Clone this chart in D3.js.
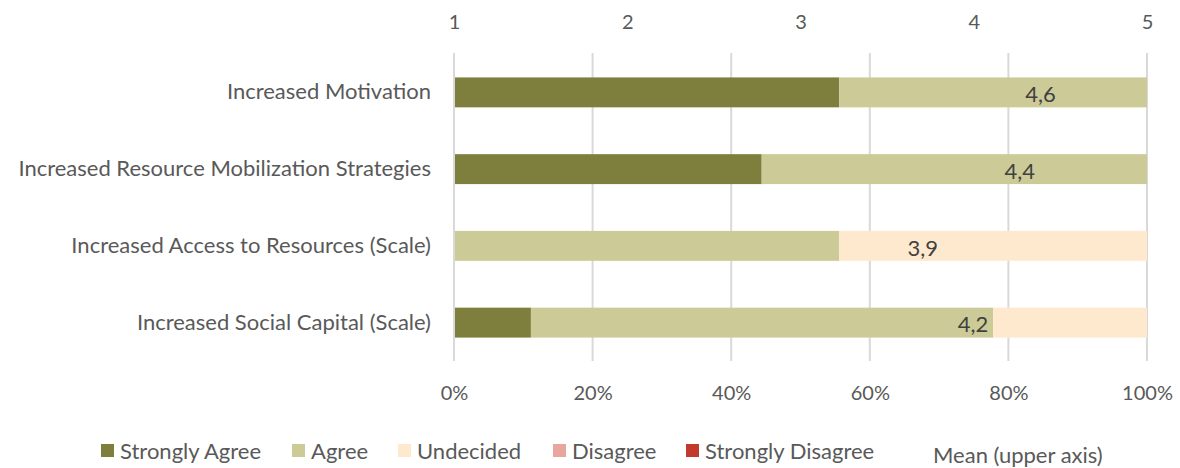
<!DOCTYPE html>
<html>
<head>
<meta charset="utf-8">
<script src="https://cdn.jsdelivr.net/npm/d3@7"></script>
<style>
  html, body { margin: 0; padding: 0; background: #ffffff; }
  svg { display: block; font-family: Lato, "Open Sans", sans-serif; }
</style>
</head>
<body>
<svg id="chart" width="1180" height="468"></svg>
<script>
// Survey items and share of responses (%) per answer category
const categories = [
  "Increased Motivation",
  "Increased Resource Mobilization Strategies",
  "Increased Access to Resources (Scale)",
  "Increased Social Capital (Scale)"
];
const stronglyAgree    = [55.6, 44.4, 0, 11.1];
const agree            = [44.4, 55.6, 55.6, 66.7];
const undecided        = [0, 0, 44.4, 22.2];
const disagree         = [0, 0, 0, 0];
const stronglyDisagree = [0, 0, 0, 0];
// Mean score on the 1–5 scale (upper axis)
const means = [4.56, 4.44, 3.88, 4.17];

const seriesNames = ["Strongly Agree", "Agree", "Undecided", "Disagree", "Strongly Disagree"];
const seriesColors = ["#7f7f3d", "#cccb98", "#fee9cf", "#e9a69d", "#c23a2c"];
const pctTicks = [0, 20, 40, 60, 80, 100];
const meanTicks = [1, 2, 3, 4, 5];

const rows = categories.map((c, i) => ({
  category: c,
  "Strongly Agree": stronglyAgree[i],
  "Agree": agree[i],
  "Undecided": undecided[i],
  "Disagree": disagree[i],
  "Strongly Disagree": stronglyDisagree[i],
  mean: means[i]
}));

const svg = d3.select("#chart");
const plotLeft = 454, plotRight = 1147, plotTop = 54, plotBottom = 361;
const textColor = "#595959";
const gridColor = "#d9d9d9";
const fontFamily = "Lato, 'Open Sans', sans-serif";

const x = d3.scaleLinear().domain([0, 100]).range([plotLeft, plotRight]);
const xMean = d3.scaleLinear().domain([1, 5]).range([plotLeft, plotRight]);
const y = d3.scaleBand().domain(categories).range([plotTop, plotBottom])
  .paddingInner(0.61).paddingOuter(0.305);

// vertical gridlines
svg.append("g").selectAll("line").data(pctTicks).join("line")
  .attr("x1", d => x(d)).attr("x2", d => x(d))
  .attr("y1", plotTop - 1).attr("y2", plotBottom)
  .attr("stroke", gridColor).attr("stroke-width", 2);

// stacked bars
const stack = d3.stack().keys(seriesNames);
const layers = stack(rows);
svg.append("g").selectAll("g").data(layers).join("g")
  .attr("fill", (d, i) => seriesColors[i])
  .selectAll("rect").data(d => d).join("rect")
  .attr("x", d => x(d[0]))
  .attr("width", d => x(d[1]) - x(d[0]))
  .attr("y", d => y(d.data.category))
  .attr("height", y.bandwidth());

// category axis line
svg.append("line")
  .attr("x1", plotLeft).attr("x2", plotLeft)
  .attr("y1", plotTop - 1).attr("y2", plotBottom)
  .attr("stroke", gridColor).attr("stroke-width", 2);

// bottom percentage axis
const axisBottom = d3.axisBottom(x).tickValues(pctTicks).tickFormat(d => d + "%").tickSize(0).tickPadding(0);
const gB = svg.append("g").attr("transform", "translate(0, 393)").call(axisBottom);
gB.select(".domain").remove();
gB.selectAll("text").attr("fill", textColor).attr("font-size", 20)
  .attr("font-family", fontFamily).attr("dy", "0.35em").attr("y", 0);

// top mean axis
const axisTop = d3.axisTop(xMean).tickValues(meanTicks).tickFormat(d3.format("d")).tickSize(0).tickPadding(0);
const gT = svg.append("g").attr("transform", "translate(0, 22)").call(axisTop);
gT.select(".domain").remove();
gT.selectAll("text").attr("fill", textColor).attr("font-size", 20)
  .attr("font-family", fontFamily).attr("dy", "0.35em").attr("y", 0);

// category labels
const axisLeft = d3.axisLeft(y).tickSize(0).tickPadding(23);
const gL = svg.append("g").attr("transform", `translate(${plotLeft}, 0)`).call(axisLeft);
gL.select(".domain").remove();
gL.selectAll("text").attr("fill", textColor).attr("font-size", 22)
  .attr("font-family", fontFamily);

// mean labels, placed left of each mean position
const fmt = v => d3.format(".1f")(v).replace(".", ",");
svg.append("g").selectAll("text").data(rows).join("text")
  .attr("x", d => xMean(d.mean) - 15)
  .attr("y", d => y(d.category) + y.bandwidth() / 2 + 2)
  .attr("dy", "0.35em")
  .attr("text-anchor", "end")
  .attr("fill", "#404040")
  .attr("font-size", 22)
  .text(d => fmt(d.mean));

// legend
const legendX = [101, 292, 398, 553, 686];
const legend = svg.append("g").attr("transform", "translate(0, 451)");
const items = legend.selectAll("g").data(seriesNames).join("g")
  .attr("transform", (d, i) => `translate(${legendX[i]}, 0)`);
items.append("rect").attr("x", 0).attr("y", -7).attr("width", 13).attr("height", 13)
  .attr("fill", (d, i) => seriesColors[i]);
items.append("text").attr("x", 19).attr("dy", "0.35em")
  .attr("fill", textColor).attr("font-size", 22).text(d => d);
legend.append("text").attr("x", 933).attr("y", 4).attr("dy", "0.35em")
  .attr("fill", textColor).attr("font-size", 22).text("Mean (upper axis)");
</script>
</body>
</html>
